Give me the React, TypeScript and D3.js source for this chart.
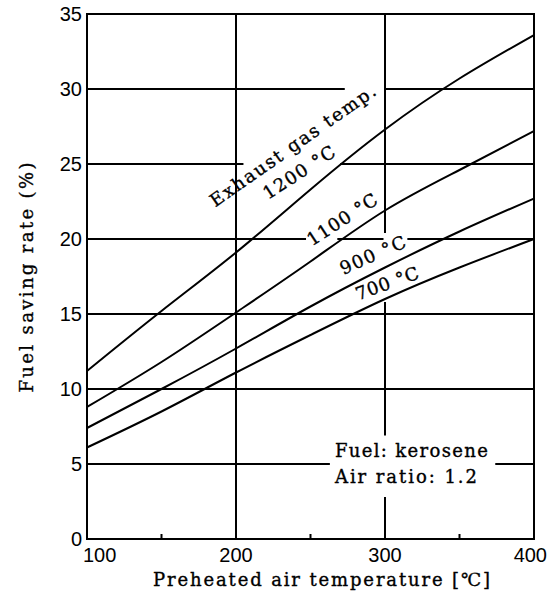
import React from 'react';
import * as d3 from 'd3';

// preheated air temperature (°C) and fuel saving rate (%) per exhaust gas temp
const airTemp = [100, 150, 200, 250, 300, 350, 400];
const rate1200 = [11.2, 15.2, 19.1, 23.3, 27.3, 30.7, 33.6];
const rate1100 = [8.8, 11.8, 15.1, 18.5, 21.9, 24.6, 27.2];
const rate900 = [7.4, 10.0, 12.7, 15.5, 18.1, 20.5, 22.7];
const rate700 = [6.1, 8.5, 11.1, 13.6, 16.0, 18.1, 20.0];
const seriesList = [rate1200, rate1100, rate900, rate700];

const xTicks = [100, 200, 300, 400];
const yTicks = [0, 5, 10, 15, 20, 25, 30, 35];
const minorXTicks = [150, 250, 350];

// grid lines are broken where labels sit (data units)
const hGrid: [number, [number, number][]][] = [
  [5, [[100, 263], [374, 400]]],
  [10, [[100, 400]]],
  [15, [[100, 400]]],
  [20, [[100, 247], [268, 299], [315, 400]]],
  [25, [[100, 205], [270, 400]]],
  [30, [[100, 273], [300, 400]]],
];
const vGrid: [number, [number, number][]][] = [
  [200, [[0, 35]]],
  [300, [[0, 2.8], [6.9, 15.8], [20.4, 35]]],
];

// curve labels: text, anchor point (data), angle, text length
const curveLabels: [string, number, number, number, number][] = [
  ['Exhaust gas temp.', 186, 22.1, -35, 198],
  ['1200 °C', 221.5, 22.6, -33, 82],
  ['1100 °C', 251, 19.5, -33, 80],
  ['900 °C', 272, 17.6, -24, 70],
  ['700 °C', 282, 15.9, -20, 66],
];
const noteLines: [string, number][] = [
  ['Fuel: kerosene', 153],
  ['Air ratio: 1.2', 142],
];

const W = 547;
const H = 602;
const margin = { top: 14, right: 13, bottom: 63, left: 87 };
const serif = '"DejaVu Serif", "Liberation Serif", serif';
const sans = '"Liberation Sans", Arial, sans-serif';

export default function App() {
  const x = d3.scaleLinear().domain([100, 400]).range([margin.left, W - margin.right]);
  const y = d3.scaleLinear().domain([0, 35]).range([H - margin.bottom, margin.top]);

  const line = d3
    .line<number>()
    .x((_, i) => x(airTemp[i]))
    .y((d) => y(d))
    .curve(d3.curveNatural);

  const x0 = x.range()[0];
  const x1 = x.range()[1];
  const y0 = y.range()[0];
  const y1 = y.range()[1];

  const label = { fontFamily: serif, fontSize: 18, stroke: '#000', strokeWidth: 0.35 };

  return (
    <svg width={W} height={H} style={{ position: 'absolute', left: 0, top: 0, background: '#fff' }}>
      <g stroke="#000" strokeWidth={2} fill="none">
        {hGrid.map(([v, segs]) =>
          segs.map(([a, b], j) => (
            <line key={`h${v}-${j}`} x1={x(a)} x2={x(b)} y1={y(v)} y2={y(v)} />
          ))
        )}
        {vGrid.map(([v, segs]) =>
          segs.map(([a, b], j) => (
            <line key={`v${v}-${j}`} x1={x(v)} x2={x(v)} y1={y(a)} y2={y(b)} />
          ))
        )}
        {minorXTicks.map((t) => (
          <line key={`m${t}`} x1={x(t)} x2={x(t)} y1={y0} y2={y0 - 5} />
        ))}
        <rect x={x0} y={y1} width={x1 - x0} height={y0 - y1} />
        {seriesList.map((s, i) => (
          <path key={i} d={line(s) || ''} />
        ))}
      </g>

      {yTicks.map((t) => (
        <text key={`yt${t}`} x={x0 - 5} y={y(t)} dy="0.36em" textAnchor="end"
          fontFamily={sans} fontSize={20}>
          {t}
        </text>
      ))}
      {xTicks.map((t, i) => {
        const first = i === 0;
        const last = i === xTicks.length - 1;
        return (
          <text key={`xt${t}`} x={x(t) + (first ? -4 : last ? 13 : 0)} y={y0 + 23}
            textAnchor={first ? 'start' : last ? 'end' : 'middle'}
            fontFamily={sans} fontSize={20}>
            {t}
          </text>
        );
      })}

      <text x={153} y={586} {...label} textLength={337} lengthAdjust="spacing">
        Preheated air temperature [℃]
      </text>
      <text transform={`translate(33,${(y0 + y1) / 2 + 1}) rotate(-90)`} x={-115}
        {...label} textLength={230} lengthAdjust="spacing">
        Fuel saving rate (%)
      </text>

      {curveLabels.map(([txt, lx, ly, ang, len]) => (
        <text key={txt} transform={`translate(${x(lx)},${y(ly)}) rotate(${ang})`}
          {...label} textLength={len} lengthAdjust="spacing">
          {txt}
        </text>
      ))}

      {noteLines.map(([s, len], i) => (
        <text key={s} x={x(266.4)} y={y(5.47) + i * 26} {...label}
          textLength={len} lengthAdjust="spacing">
          {s}
        </text>
      ))}
    </svg>
  );
}
